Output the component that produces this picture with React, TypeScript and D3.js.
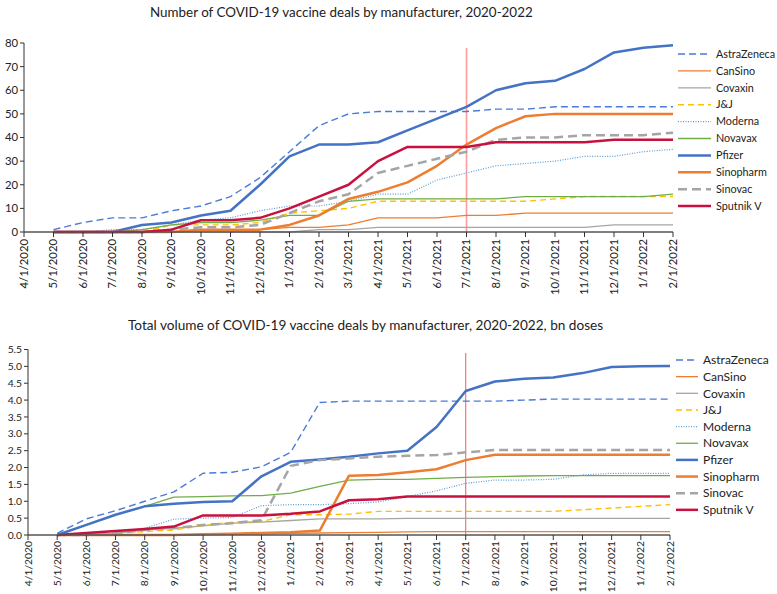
import React from "react";
import * as d3 from "d3";

const months: string[] = [
  "4/1/2020","5/1/2020","6/1/2020","7/1/2020","8/1/2020","9/1/2020","10/1/2020","11/1/2020","12/1/2020",
  "1/1/2021","2/1/2021","3/1/2021","4/1/2021","5/1/2021","6/1/2021","7/1/2021","8/1/2021","9/1/2021",
  "10/1/2021","11/1/2021","12/1/2021","1/1/2022","2/1/2022",
];

const manufacturers: string[] = ["AstraZeneca","CanSino","Covaxin","J&J","Moderna","Novavax","Pfizer","Sinopharm","Sinovac","Sputnik V"];

// Number of deals (index 0 = 4/1/2020, no data)
const dealsAstraZeneca = [null,1,4,6,6,9,11,15,23,34,45,50,51,51,51,51,52,52,53,53,53,53,53];
const dealsCanSino = [null,0,0,0,0,0,1,1,1,2,2,3,6,6,6,7,7,8,8,8,8,8,8];
const dealsCovaxin = [null,0,0,0,0,0,0,0,0,0,1,1,2,2,2,2,2,2,2,2,3,3,3];
const dealsJJ = [null,0,0,0,0,3,3,3,4,8,9,10,13,13,13,13,13,13,14,15,15,15,15];
const dealsModerna = [null,0,0,1,1,3,5,6,9,11,11,13,16,16,22,25,28,29,30,32,32,34,35];
const dealsNovavax = [null,0,0,0,1,3,4,4,5,7,7,13,14,14,14,14,14,15,15,15,15,15,16];
const dealsPfizer = [null,0,0,0,3,4,7,9,20,32,37,37,38,43,48,53,60,63,64,69,76,78,79];
const dealsSinopharm = [null,0,0,0,0,0,1,1,1,3,7,14,17,21,28,37,44,49,50,50,50,50,50];
const dealsSinovac = [null,0,0,0,0,1,2,2,3,8,13,16,25,28,31,34,39,40,40,41,41,41,42];
const dealsSputnik = [null,0,0,0,0,1,5,5,6,10,15,20,30,36,36,36,38,38,38,38,39,39,39];

// Volume, bn doses
const volAstraZeneca = [null,0.05,0.48,0.72,1.0,1.28,1.83,1.86,2.02,2.45,3.93,3.97,3.97,3.97,3.97,3.97,3.97,4.0,4.03,4.03,4.03,4.03,4.03];
const volCanSino = [null,0,0,0,0,0,0.01,0.02,0.03,0.05,0.06,0.07,0.08,0.09,0.1,0.1,0.1,0.1,0.1,0.1,0.1,0.1,0.1];
const volCovaxin = [null,0,0,0.05,0.15,0.2,0.27,0.35,0.38,0.43,0.48,0.48,0.48,0.49,0.49,0.49,0.49,0.49,0.49,0.49,0.49,0.49,0.49];
const volJJ = [null,0,0.02,0.05,0.1,0.15,0.28,0.38,0.4,0.6,0.6,0.62,0.7,0.7,0.7,0.7,0.7,0.7,0.7,0.75,0.8,0.85,0.9];
const volModerna = [null,0,0.02,0.06,0.2,0.47,0.5,0.52,0.87,0.9,0.9,0.93,0.98,1.14,1.31,1.53,1.63,1.63,1.65,1.78,1.83,1.83,1.83];
const volNovavax = [null,0,0.3,0.6,0.85,1.12,1.14,1.16,1.17,1.24,1.44,1.63,1.65,1.65,1.68,1.71,1.73,1.75,1.76,1.76,1.76,1.76,1.76];
const volPfizer = [null,0,0.3,0.6,0.85,0.93,0.98,1.0,1.74,2.17,2.24,2.32,2.42,2.5,3.2,4.27,4.55,4.63,4.67,4.8,4.98,5.0,5.01];
const volSinopharm = [null,0,0,0,0,0,0.02,0.04,0.06,0.08,0.13,1.76,1.78,1.86,1.95,2.22,2.38,2.38,2.38,2.38,2.38,2.38,2.38];
const volSinovac = [null,0,0,0.05,0.15,0.2,0.3,0.35,0.44,2.05,2.22,2.27,2.32,2.35,2.37,2.45,2.52,2.52,2.52,2.52,2.52,2.52,2.52];
const volSputnik = [null,0,0.06,0.12,0.18,0.25,0.58,0.58,0.58,0.63,0.7,1.03,1.06,1.14,1.14,1.14,1.14,1.14,1.14,1.14,1.14,1.14,1.14];

const dealsSeries = [dealsAstraZeneca,dealsCanSino,dealsCovaxin,dealsJJ,dealsModerna,dealsNovavax,dealsPfizer,dealsSinopharm,dealsSinovac,dealsSputnik];
const volSeries = [volAstraZeneca,volCanSino,volCovaxin,volJJ,volModerna,volNovavax,volPfizer,volSinopharm,volSinovac,volSputnik];

const dealsTicks = [0,10,20,30,40,50,60,70,80];
const volTicks = [0,0.5,1,1.5,2,2.5,3,3.5,4,4.5,5,5.5];
const markerMonth = "7/1/2021";

type Style = { color: string; width: number; dash?: string };
const styles: Style[] = [
  { color: "#4A7BD6", width: 1.4, dash: "7,4" },
  { color: "#ED7D31", width: 1.3 },
  { color: "#A5A5A5", width: 1.3 },
  { color: "#FFC000", width: 1.4, dash: "6,4" },
  { color: "#5B9BD5", width: 1.2, dash: "1,1.5" },
  { color: "#70AD47", width: 1.3 },
  { color: "#4472C4", width: 2.5 },
  { color: "#ED7D31", width: 2.5 },
  { color: "#A5A5A5", width: 2.5, dash: "9,5" },
  { color: "#C9113F", width: 2.5 },
];

const FONT = "Lato, 'Open Sans', sans-serif";

type ChartProps = {
  title: string; titleX: number; titleY: number; titleSize: number;
  series: (number | null)[][];
  domainMax: number; ticks: number[]; fmt: (v: number) => string;
  left: number; right: number; top: number; bottom: number;
  markerTop: number; markerColor: string; markerWidth: number;
  legendX: number; legendY: number; legendStep: number; legendLen: number; legendSize: number;
  tickSize: number; labelGap: number;
};

function Chart(p: ChartProps) {
  const x = d3.scalePoint<string>().domain(months).range([p.left, p.right]);
  const y = d3.scaleLinear().domain([0, p.domainMax]).range([p.bottom, p.top]);
  const line = d3.line<number | null>()
    .defined((d) => d !== null)
    .x((_, i) => x(months[i]) as number)
    .y((d) => y(d as number));
  const mx = x(markerMonth) as number;
  return (
    <g>
      <text x={p.titleX} y={p.titleY} fontFamily={FONT} fontSize={p.titleSize} fill="#222">{p.title}</text>
      <line x1={p.left} x2={p.left} y1={y(p.domainMax)} y2={p.bottom} stroke="#333" strokeWidth={1} />
      {p.ticks.map((t) => (
        <g key={t}>
          <line x1={p.left - 4} x2={p.left} y1={y(t)} y2={y(t)} stroke="#333" />
          <text x={p.left - 6} y={y(t)} dy="0.35em" textAnchor="end" fontFamily={FONT} fontSize={p.tickSize} fill="#222">{p.fmt(t)}</text>
        </g>
      ))}
      <line x1={mx} x2={mx} y1={p.markerTop} y2={p.bottom} stroke={p.markerColor} strokeWidth={p.markerWidth} />
      {p.series.map((s, i) => (
        <path key={i} d={line(s) || ""} fill="none" stroke={styles[i].color} strokeWidth={styles[i].width}
          strokeDasharray={styles[i].dash} strokeLinejoin="round" />
      ))}
      <line x1={p.left} x2={p.right} y1={p.bottom} y2={p.bottom} stroke="#555" strokeWidth={1.5} />
      {months.map((m) => (
        <g key={m}>
          <line x1={x(m)} x2={x(m)} y1={p.bottom} y2={p.bottom + 5} stroke="#333" />
          <text transform={`translate(${x(m)},${p.bottom + p.labelGap}) rotate(-90)`} dy="0.35em" textAnchor="end"
            fontFamily={FONT} fontSize={p.tickSize} fill="#222">{m}</text>
        </g>
      ))}
      {manufacturers.map((name, i) => {
        const ly = p.legendY + i * p.legendStep;
        return (
          <g key={name}>
            <line x1={p.legendX} x2={p.legendX + p.legendLen} y1={ly} y2={ly} stroke={styles[i].color}
              strokeWidth={styles[i].width} strokeDasharray={styles[i].dash} />
            <text x={p.legendX + p.legendLen + 5} y={ly} dy="0.35em" fontFamily={FONT} fontSize={p.legendSize} fill="#222">{name}</text>
          </g>
        );
      })}
    </g>
  );
}

export default function App() {
  return (
    <svg width={777} height={594} style={{ position: "absolute", left: 0, top: 0, background: "#fff" }}>
      <rect width={777} height={594} fill="#fff" />
      <Chart title="Number of COVID-19 vaccine deals by manufacturer, 2020-2022" titleX={150} titleY={17} titleSize={13.4}
        series={dealsSeries} domainMax={80} ticks={dealsTicks} fmt={(v) => String(v)}
        left={24} right={673} top={43} bottom={232}
        markerTop={48} markerColor="rgba(255,120,120,0.75)" markerWidth={1.6}
        legendX={678} legendY={54} legendStep={16.9} legendLen={33} legendSize={10.8} tickSize={11.3} labelGap={7} />
      <Chart title="Total volume of COVID-19 vaccine deals by manufacturer, 2020-2022, bn doses" titleX={128} titleY={330} titleSize={13.6}
        series={volSeries} domainMax={5.5} ticks={volTicks} fmt={(v) => d3.format(".1f")(v)}
        left={28} right={670} top={349.5} bottom={535}
        markerTop={353} markerColor="#FF5555" markerWidth={1}
        legendX={676} legendY={360} legendStep={16.65} legendLen={22} legendSize={12} tickSize={10.3} labelGap={6} />
    </svg>
  );
}
